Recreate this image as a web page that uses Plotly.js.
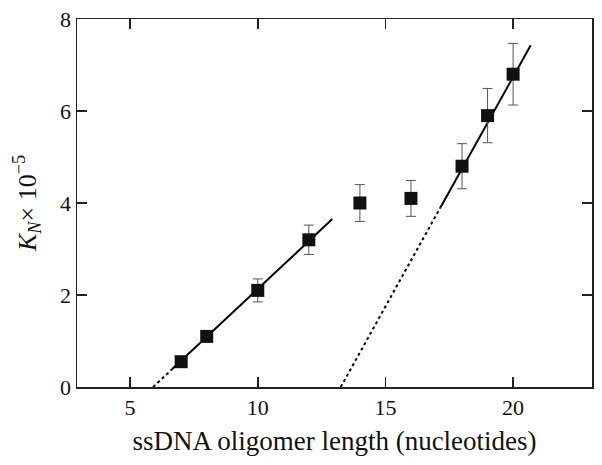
<!DOCTYPE html>
<html>
<head>
<meta charset="utf-8">
<script src="https://cdn.plot.ly/plotly-3.0.1.min.js"></script>
<style>html,body{margin:0;padding:0;background:#fff;}#chart{width:602px;height:465px;}</style>
</head>
<body>
<div id="chart"></div>
<script>
// Measured data
const lengths = [7, 8, 10, 12, 14, 16, 18, 19, 20];
const kn = [0.55, 1.1, 2.1, 3.2, 4.0, 4.1, 4.8, 5.9, 6.8];
const knErr = [0, 0, 0.25, 0.32, 0.4, 0.39, 0.49, 0.59, 0.67];

// Fit line 1 (short oligomers)
const fit1DotX = [5.9, 6.65];
const fit1DotY = [0.0, 0.39];
const fit1SolidX = [6.65, 12.92];
const fit1SolidY = [0.39, 3.65];

// Fit line 2 (long oligomers)
const fit2DotX = [13.25, 17.16];
const fit2DotY = [0.0, 3.91];
const fit2SolidX = [17.16, 20.69];
const fit2SolidY = [3.91, 7.43];

const xTicks = [5, 10, 15, 20];
const yTicks = [0, 2, 4, 6, 8];

const font = "Liberation Serif, Times New Roman, serif";

const lineTrace = (x, y, dash) => ({
  x: x, y: y, mode: 'lines', type: 'scatter', showlegend: false, hoverinfo: 'skip',
  line: {color: '#000', width: 2, dash: dash}
});

const traces = [
  lineTrace(fit1DotX, fit1DotY, 'dot'),
  lineTrace(fit1SolidX, fit1SolidY, 'solid'),
  lineTrace(fit2DotX, fit2DotY, 'dot'),
  lineTrace(fit2SolidX, fit2SolidY, 'solid'),
  {
    x: lengths, y: kn, type: 'scatter', mode: 'markers', showlegend: false,
    marker: {symbol: 'square', size: 13, color: '#111'},
    error_y: {type: 'data', array: knErr, visible: true, color: '#555', thickness: 1, width: 5}
  }
];

const layout = {
  width: 602, height: 465,
  margin: {l: 77, r: 10, t: 19, b: 78},
  paper_bgcolor: '#fff', plot_bgcolor: '#fff',
  font: {family: font, color: '#111'},
  xaxis: {
    range: [2.92, 23.09], tickvals: xTicks, ticktext: xTicks.map(String),
    ticks: 'inside', ticklen: 10, tickwidth: 1.5, tickcolor: '#222',
    showline: true, linecolor: '#222', linewidth: 1.5, mirror: 'allticks',
    showgrid: false, zeroline: false,
    tickfont: {family: font, size: 22, color: '#111'},
    title: {text: 'ssDNA oligomer length (nucleotides)', font: {family: font, size: 27, color: '#111'}, standoff: 12}
  },
  yaxis: {
    range: [0, 8], tickvals: yTicks, ticktext: yTicks.map(String),
    ticks: 'inside', ticklen: 10, tickwidth: 1.5, tickcolor: '#222',
    showline: true, linecolor: '#222', linewidth: 1.5, mirror: 'allticks',
    showgrid: false, zeroline: false,
    tickfont: {family: font, size: 22, color: '#111'},
    title: {text: '<i>K<sub>N</sub></i>× 10<sup>−5</sup>', font: {family: font, size: 26, color: '#111'}, standoff: 16}
  }
};

Plotly.newPlot('chart', traces, layout, {displayModeBar: false, staticPlot: true});
</script>
</body>
</html>
